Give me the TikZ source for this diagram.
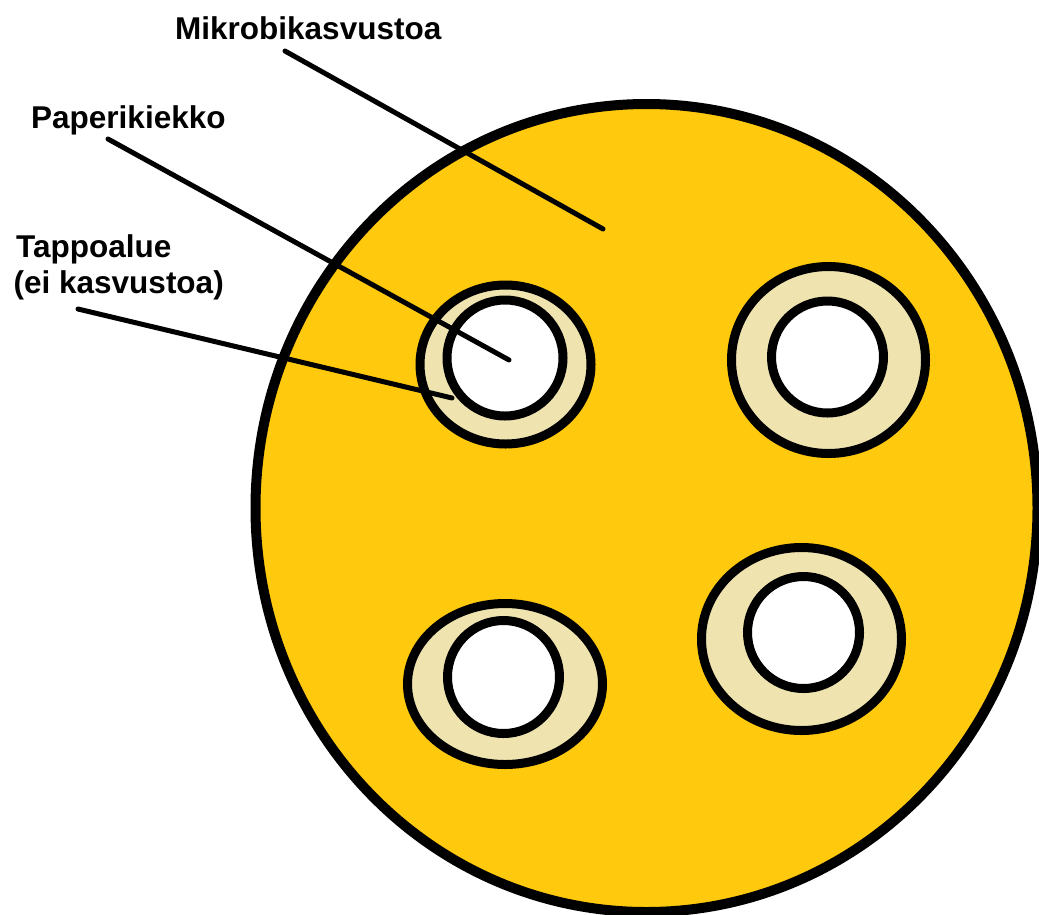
\documentclass[tikz,border=0pt]{standalone}
\usepackage{fontspec}
\setmainfont{Liberation Sans}
\definecolor{agar}{HTML}{FFC90E}
\definecolor{zone}{HTML}{EFE4B0}
\begin{document}
\begin{tikzpicture}[x=1pt,y=-1pt,
  plate/.style={draw=black,line width=10pt,fill=agar},
  zonering/.style={draw=black,line width=9pt,fill=zone},
  disk/.style={draw=black,line width=9pt,fill=white},
  leader/.style={draw=black,line width=5pt,line cap=round},
  lbl/.style={inner sep=0pt,anchor=base west,font=\fontsize{31.5}{36}\selectfont\bfseries}]
\useasboundingbox (0,0) rectangle (1039,914);
\clip (0,0) rectangle (1039,914);
% plate
\draw[plate] (646.5,508) ellipse [x radius=391, y radius=404];
% ring 1 (top left)
\draw[zonering] (505.5,364.5) ellipse [x radius=85.5, y radius=79.5];
\draw[disk] (505,358) ellipse [x radius=58, y radius=58];
% ring 2 (top right)
\draw[zonering] (828.5,360) ellipse [x radius=97, y radius=93.5];
\draw[disk] (827.5,357) ellipse [x radius=56, y radius=56];
% ring 3 (bottom right)
\draw[zonering] (801.5,639) ellipse [x radius=100, y radius=91.5];
\draw[disk] (803.5,632.5) ellipse [x radius=56, y radius=56];
% ring 4 (bottom left)
\draw[zonering] (505,684) ellipse [x radius=97.5, y radius=80.5];
\draw[disk] (503.5,677) ellipse [x radius=56, y radius=56.5];
% labels
\node[lbl] (mikro) at (175,39) {Mikrobikasvustoa};
\node[lbl] (paperi) at (31,128) {Paperikiekko};
\node[lbl] (tappo1) at (16,257) {Tappoalue};
\node[lbl] (tappo2) at (13.5,293) {(ei kasvustoa)};
% leader end points
\coordinate (mikroA) at (285,51);
\coordinate (mikroB) at (603,229);
\coordinate (paperiA) at (108,139);
\coordinate (paperiB) at (509,360);
\coordinate (tappoA) at (78,309);
\coordinate (tappoB) at (452,398);
\draw[leader] (mikroA) -- (mikroB);
\draw[leader] (paperiA) -- (paperiB);
\draw[leader] (tappoA) -- (tappoB);
\end{tikzpicture}
\end{document}
